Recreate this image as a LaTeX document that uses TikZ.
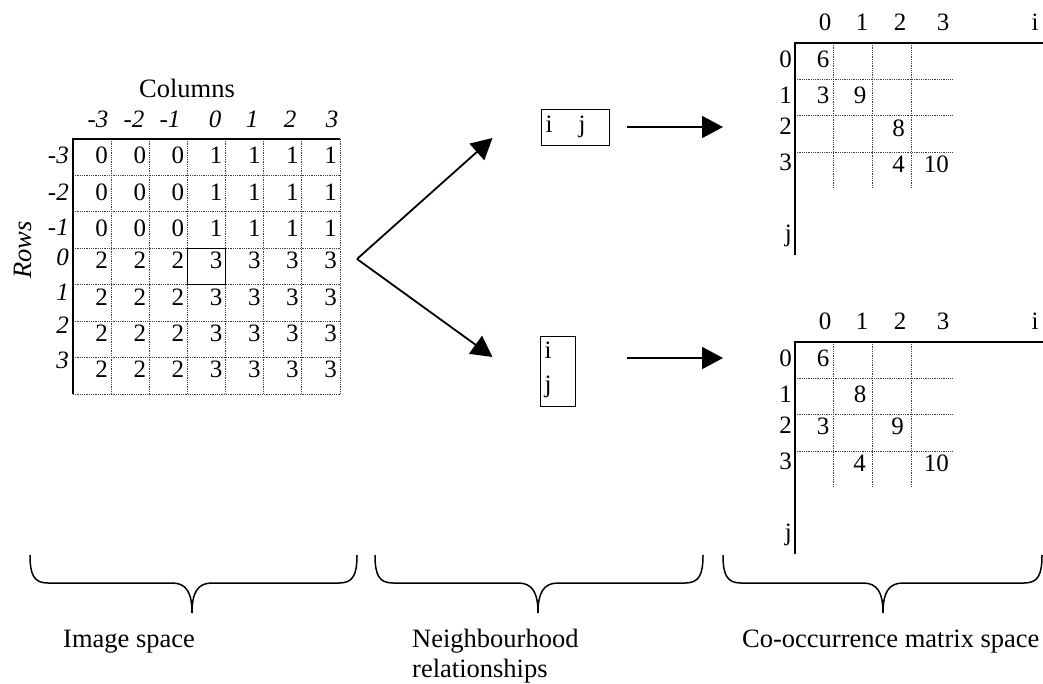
\documentclass[tikz,border=0pt]{standalone}
\usepackage{fontspec}
\setmainfont{Liberation Serif}
\usetikzlibrary{arrows.meta}
\newcommand\bracepath[3]{%
  \draw[bracestyle] (#1,555) .. controls (#1,575) and (#1+4,583) .. (#1+18,583)
    -- (#2-20,583) .. controls (#2-6,583) and (#2,592) .. (#2,613)
    .. controls (#2,592) and (#2+6,583) .. (#2+20,583)
    -- (#3-18,583) .. controls (#3-4,583) and (#3,575) .. (#3,555);}
\begin{document}
\begin{tikzpicture}[x=1pt,y=-1pt,
  num/.style={anchor=base east, inner sep=0pt, font=\fontsize{25}{30}\selectfont},
  lab/.style={anchor=base, inner sep=0pt, font=\fontsize{25}{30}\selectfont},
  ital/.style={inner sep=0pt, font=\fontsize{25}{30}\selectfont\itshape},
  caption/.style={anchor=base west, inner sep=0pt, align=left, font=\fontsize{26.5}{30}\selectfont},
  dotgrid/.style={line width=0.8pt, dash pattern=on 0.9pt off 0.9pt, black!75},
  axisline/.style={line width=1.7pt},
  arr/.style={line width=1.8pt, -{Triangle[length=21pt,width=22pt]}},
  bracestyle/.style={line width=1.5pt},
  ijbox/.style={draw, line width=1pt, inner sep=0pt},
  ]
\useasboundingbox (0,0) rectangle (1043,683);

% ---------------- Image space matrix ----------------
\node[inner sep=0pt, font=\fontsize{26.5}{30}\selectfont] (colttl) at (187,88) {Columns};
\node[ital, rotate=90, font=\fontsize{26.5}{30}\selectfont\itshape] (rowttl) at (23,250) {Rows};

\foreach \k in {1,...,7}{
  \draw[dotgrid] ({73+38.14*\k},139) -- ({73+38.14*\k},394);
  \draw[dotgrid] (73,{139+36.43*\k}) -- (340,{139+36.43*\k});
}
\draw[line width=1.6pt] (73,394) -- (73,139) -- (340,139);
\draw[line width=1.3pt] (187.4,248.3) rectangle (225.6,284.7);

\foreach \t [count=\c from 0] in {-3,-2,-1,0,1,2,3}{
  \pgfmathsetmacro{\hx}{{98,134,170,215,252,290,332}[\c]}
  \node[ital, anchor=base] (ch\c) at (\hx,127) {\t};
}
\foreach \t [count=\r from 0] in {-3,-2,-1,0,1,2,3}{
  \pgfmathsetmacro{\ly}{{163,200,235,265,300,333,368}[\r]}
  \node[ital, anchor=base east] (rh\r) at (69,\ly) {\t};
}
\foreach \vals [count=\r from 0] in {{0,0,0,1,1,1,1},{0,0,0,1,1,1,1},{0,0,0,1,1,1,1},
  {2,2,2,3,3,3,3},{2,2,2,3,3,3,3},{2,2,2,3,3,3,3},{2,2,2,3,3,3,3}}{
  \pgfmathsetmacro{\vy}{{163,200,236.5,268,305,341.5,377}[\r]}
  \foreach \v [count=\c from 1] in \vals{
    \node[num] (m\r-\c) at ({73+38.14*\c-3},\vy) {\v};
  }
}

% ---------------- Neighbourhood relationships ----------------
\coordinate (branch) at (357,259);
\coordinate (tipA) at (492.5,138);
\coordinate (tipB) at (492.5,357);
\draw[arr] (branch) -- (tipA);
\draw[arr] (branch) -- (tipB);

\node[ijbox, minimum width=68pt, minimum height=36pt] (boxA) at (575,127) {};
\node[lab] (boxAi) at (549,132) {i};
\node[lab] (boxAj) at (582,132) {j};
\node[ijbox, minimum width=35pt, minimum height=70pt] (boxB) at (557.5,371) {};
\node[lab] (boxBi) at (548,358) {i};
\node[lab] (boxBj) at (548,392) {j};

\coordinate (arrAs) at (627,127);
\coordinate (arrAe) at (723,127);
\coordinate (arrBs) at (627,358);
\coordinate (arrBe) at (723,358);
\draw[arr] (arrAs) -- (arrAe);
\draw[arr] (arrBs) -- (arrBe);

% ---------------- Co-occurrence matrices ----------------
\foreach \s/\oy in {A/43,B/342}{
  \begin{scope}[shift={(0,\oy)}]
    \foreach \k in {1,2,3}{
      \draw[dotgrid] ({795+38.7*\k},0) -- ({795+38.7*\k},145);
      \draw[dotgrid] (795,{36.3*\k}) -- (952,{36.3*\k});
    }
    \draw[axisline] (795,212) -- (795,0) -- (1043,0);
    \foreach \t/\x [count=\c from 0] in {0/825,1/862,2/900,3/943,i/1035}{
      \node[lab] (\s col\c) at (\x,-13) {\t};
    }
    \foreach \t/\y [count=\r from 0] in {0/24.2,1/60,2/91.5,3/127.5,j/198.2}{
      \node[num] (\s row\r) at (792,\y) {\t};
    }
  \end{scope}
}
% values, top matrix
\node[num] (A00) at (829.5,67) {6};
\node[num] (A10) at (829.5,103) {3};
\node[num] (A11) at (866.5,103) {9};
\node[num] (A22) at (905,136) {8};
\node[num] (A32) at (905,172) {4};
\node[num] (A33) at (949,172) {10};
% values, bottom matrix
\node[num] (B00) at (829.5,366) {6};
\node[num] (B11) at (866.5,402) {8};
\node[num] (B20) at (829.5,434) {3};
\node[num] (B22) at (904,434) {9};
\node[num] (B31) at (866,471) {4};
\node[num] (B33) at (949,471) {10};

% ---------------- Braces and captions ----------------
\bracepath{30}{192}{357}
\bracepath{375}{538}{703}
\bracepath{723}{883}{1042}

\node[caption] (capA) at (63,647) {Image space};
\node[caption] (capB) at (412,677) {Neighbourhood\\relationships};
\node[caption] (capC) at (742,647) {Co-occurrence matrix space};
\end{tikzpicture}
\end{document}
